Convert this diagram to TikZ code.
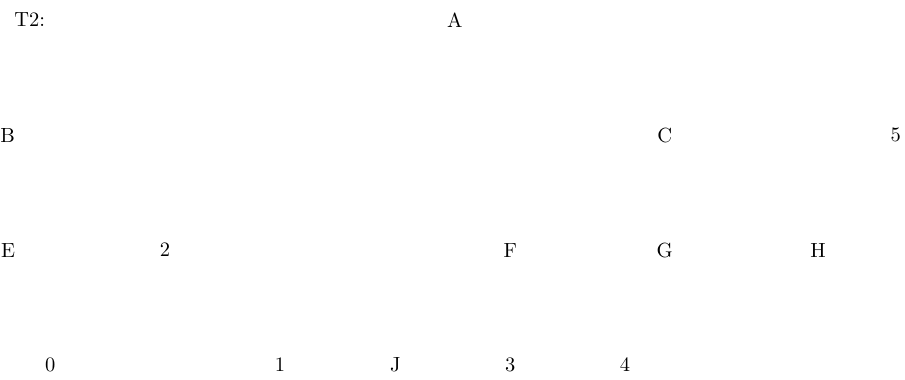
\documentclass[tikz,border=0pt]{standalone}
\usepackage{tikz}
\usetikzlibrary{positioning}
\tikzset{
  treelbl/.style={inner sep=0pt, font=\normalsize},
}
\begin{document}
\begin{tikzpicture}
  \useasboundingbox (0,0) rectangle (15.52,-6.5);
  % title
  \node[treelbl] (title) at (0.51,-0.34) {T2:};
  % level 0
  \node[treelbl] (a) at (7.80,-0.34) {A};
  % level 1
  \node[treelbl] (b) at (0.13,-2.32) {B};
  \node[treelbl] (c) at (11.40,-2.32) {C};
  \node[treelbl] (five) at (15.36,-2.32) {5};
  % level 2
  \node[treelbl] (e) at (0.14,-4.29) {E};
  \node[treelbl] (two) at (2.83,-4.29) {2};
  \node[treelbl] (f) at (8.75,-4.29) {F};
  \node[treelbl] (g) at (11.40,-4.29) {G};
  \node[treelbl] (h) at (14.03,-4.29) {H};
  % level 3
  \node[treelbl] (zero) at (0.86,-6.26) {0};
  \node[treelbl] (one) at (4.80,-6.26) {1};
  \node[treelbl] (j) at (6.78,-6.26) {J};
  \node[treelbl] (three) at (8.75,-6.26) {3};
  \node[treelbl] (four) at (10.72,-6.26) {4};
\end{tikzpicture}
\end{document}
